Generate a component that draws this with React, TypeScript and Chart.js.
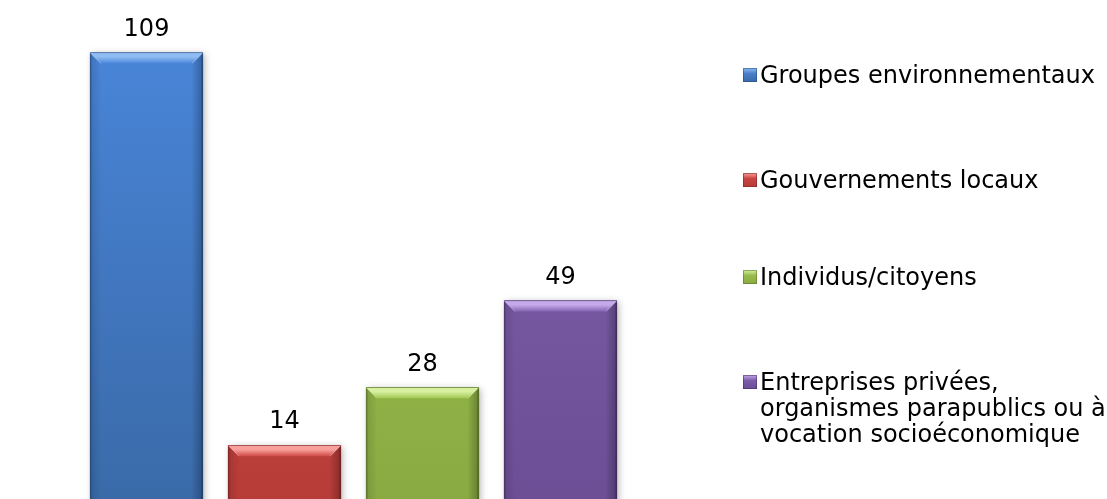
import React, { useEffect, useRef } from "react";
import { Chart, registerables } from "chart.js";

Chart.register(...registerables);

const categories = [
  "Groupes environnementaux",
  "Gouvernements locaux",
  "Individus/citoyens",
  "Entreprises privées, organismes parapublics ou à vocation socioéconomique",
];
const legendLines = [
  ["Groupes environnementaux"],
  ["Gouvernements locaux"],
  ["Individus/citoyens"],
  ["Entreprises privées,", "organismes parapublics ou à", "vocation socioéconomique"],
];
const values = [109, 14, 28, 49];

const palettes = [
  { top: "#4a87dc", bottom: "#3a6aa8", bevel: "#8fbcf2", side: "#24497a", marker: "#4a7ec8" },
  { top: "#d24c48", bottom: "#b73c38", bevel: "#f7a09c", side: "#7a2421", marker: "#c94440" },
  { top: "#a2c852", bottom: "#89aa42", bevel: "#d6f0a0", side: "#56702a", marker: "#98bb4c" },
  { top: "#8464b2", bottom: "#6b4e94", bevel: "#c4aaea", side: "#432c63", marker: "#7b5ca8" },
];

const FONT = "'DejaVu Sans', Verdana, sans-serif";

export default function App() {
  const ref = useRef<HTMLCanvasElement | null>(null);

  useEffect(() => {
    document.body.style.margin = "0";
    const canvas = ref.current;
    if (!canvas) return;

    const shadowPlugin = {
      id: "barShadow",
      beforeDatasetDraw(chart: any) {
        const ctx = chart.ctx;
        ctx.save();
        ctx.shadowColor = "rgba(0,0,0,0.3)";
        ctx.shadowBlur = 7;
        ctx.shadowOffsetX = 2;
        ctx.shadowOffsetY = 2;
      },
      afterDatasetDraw(chart: any) {
        chart.ctx.restore();
      },
    };

    const bevelPlugin = {
      id: "bevel",
      afterDatasetsDraw(chart: any) {
        const ctx = chart.ctx;
        const meta = chart.getDatasetMeta(0);
        meta.data.forEach((bar: any, i: number) => {
          const p = palettes[i];
          const w = bar.width;
          const l = bar.x - w / 2;
          const r = bar.x + w / 2;
          const t = bar.y;
          const b = bar.base;
          const bv = 11;
          ctx.save();
          // left bevel
          const lg = ctx.createLinearGradient(l, 0, l + bv, 0);
          lg.addColorStop(0, p.side);
          lg.addColorStop(0.18, "rgba(0,0,0,0.15)");
          lg.addColorStop(1, "rgba(0,0,0,0)");
          ctx.fillStyle = lg;
          ctx.globalAlpha = 0.7;
          ctx.beginPath();
          ctx.moveTo(l, t);
          ctx.lineTo(l + bv, t + bv);
          ctx.lineTo(l + bv, b);
          ctx.lineTo(l, b);
          ctx.closePath();
          ctx.fill();
          // right bevel
          const rg = ctx.createLinearGradient(r, 0, r - bv, 0);
          rg.addColorStop(0, p.side);
          rg.addColorStop(0.2, "rgba(0,0,0,0.25)");
          rg.addColorStop(1, "rgba(0,0,0,0.02)");
          ctx.fillStyle = rg;
          ctx.globalAlpha = 0.9;
          ctx.beginPath();
          ctx.moveTo(r, t);
          ctx.lineTo(r - bv, t + bv);
          ctx.lineTo(r - bv, b);
          ctx.lineTo(r, b);
          ctx.closePath();
          ctx.fill();
          // top bevel
          ctx.globalAlpha = 1;
          const tg = ctx.createLinearGradient(0, t, 0, t + bv);
          tg.addColorStop(0, p.side);
          tg.addColorStop(0.1, p.bevel);
          tg.addColorStop(0.4, p.bevel);
          tg.addColorStop(1, p.top);
          ctx.fillStyle = tg;
          ctx.beginPath();
          ctx.moveTo(l, t);
          ctx.lineTo(r, t);
          ctx.lineTo(r - bv, t + bv);
          ctx.lineTo(l + bv, t + bv);
          ctx.closePath();
          ctx.fill();
          // subtle diagonal highlight lines at corners
          ctx.strokeStyle = "rgba(255,255,255,0.35)";
          ctx.lineWidth = 1;
          ctx.beginPath();
          ctx.moveTo(l + 1, t + 1);
          ctx.lineTo(l + bv, t + bv);
          ctx.moveTo(r - 1, t + 1);
          ctx.lineTo(r - bv, t + bv);
          ctx.stroke();
          ctx.restore();
        });
      },
    };

    const labelPlugin = {
      id: "valueLabels",
      afterDatasetsDraw(chart: any) {
        const ctx = chart.ctx;
        const meta = chart.getDatasetMeta(0);
        ctx.save();
        ctx.fillStyle = "#000";
        ctx.font = `24px ${FONT}`;
        ctx.textAlign = "center";
        ctx.textBaseline = "middle";
        meta.data.forEach((bar: any, i: number) => {
          ctx.fillText(String(values[i]), bar.x, bar.y - 23);
        });
        ctx.restore();
      },
    };

    const chart = new Chart(canvas, {
      type: "bar",
      data: {
        labels: categories,
        datasets: [
          {
            data: values,
            backgroundColor: (c: any) => {
              const p = palettes[c.dataIndex % palettes.length];
              const area = c.chart.chartArea;
              if (!area) return p.top;
              const g = c.chart.ctx.createLinearGradient(0, area.top, 0, area.bottom);
              g.addColorStop(0, p.top);
              g.addColorStop(1, p.bottom);
              return g;
            },
            borderWidth: 0,
            categoryPercentage: 1,
            barPercentage: 0.82,
          },
        ],
      },
      options: {
        animation: false,
        responsive: false,
        maintainAspectRatio: false,
        layout: { padding: { left: 77.5, right: 477.5, top: 7, bottom: 0 } },
        scales: {
          x: { display: false },
          y: { display: false, min: 0, max: 120 },
        },
        plugins: {
          legend: { display: false },
          tooltip: { enabled: false },
        },
      },
      plugins: [shadowPlugin, bevelPlugin, labelPlugin],
    });
    return () => chart.destroy();
  }, []);

  const legendTops = [75, 180, 277, 382];

  return (
    <div style={{ position: "relative", width: 1107, height: 499, overflow: "hidden", background: "#fff" }}>
      <canvas ref={ref} width={1107} height={503} style={{ position: "absolute", left: 0, top: 0, width: 1107, height: 503 }} />
      {legendLines.map((lines, i) => (
        <div
          key={i}
          style={{
            position: "absolute",
            left: 743,
            top: legendTops[i] - 13,
            fontFamily: FONT,
            fontSize: 24,
            lineHeight: "26px",
            color: "#000",
            whiteSpace: "nowrap",
          }}
        >
          {lines.map((ln, j) => (
            <div key={j} style={{ position: "relative", paddingLeft: 17 }}>
              {j === 0 && (
                <span
                  style={{
                    position: "absolute",
                    left: 0,
                    top: 6,
                    width: 14,
                    height: 14,
                    background: `linear-gradient(180deg, ${palettes[i].bevel}, ${palettes[i].marker} 40%, ${palettes[i].bottom})`,
                    boxShadow: `inset 0 0 0 1px ${palettes[i].side}88`,
                  }}
                />
              )}
              {ln}
            </div>
          ))}
        </div>
      ))}
    </div>
  );
}
